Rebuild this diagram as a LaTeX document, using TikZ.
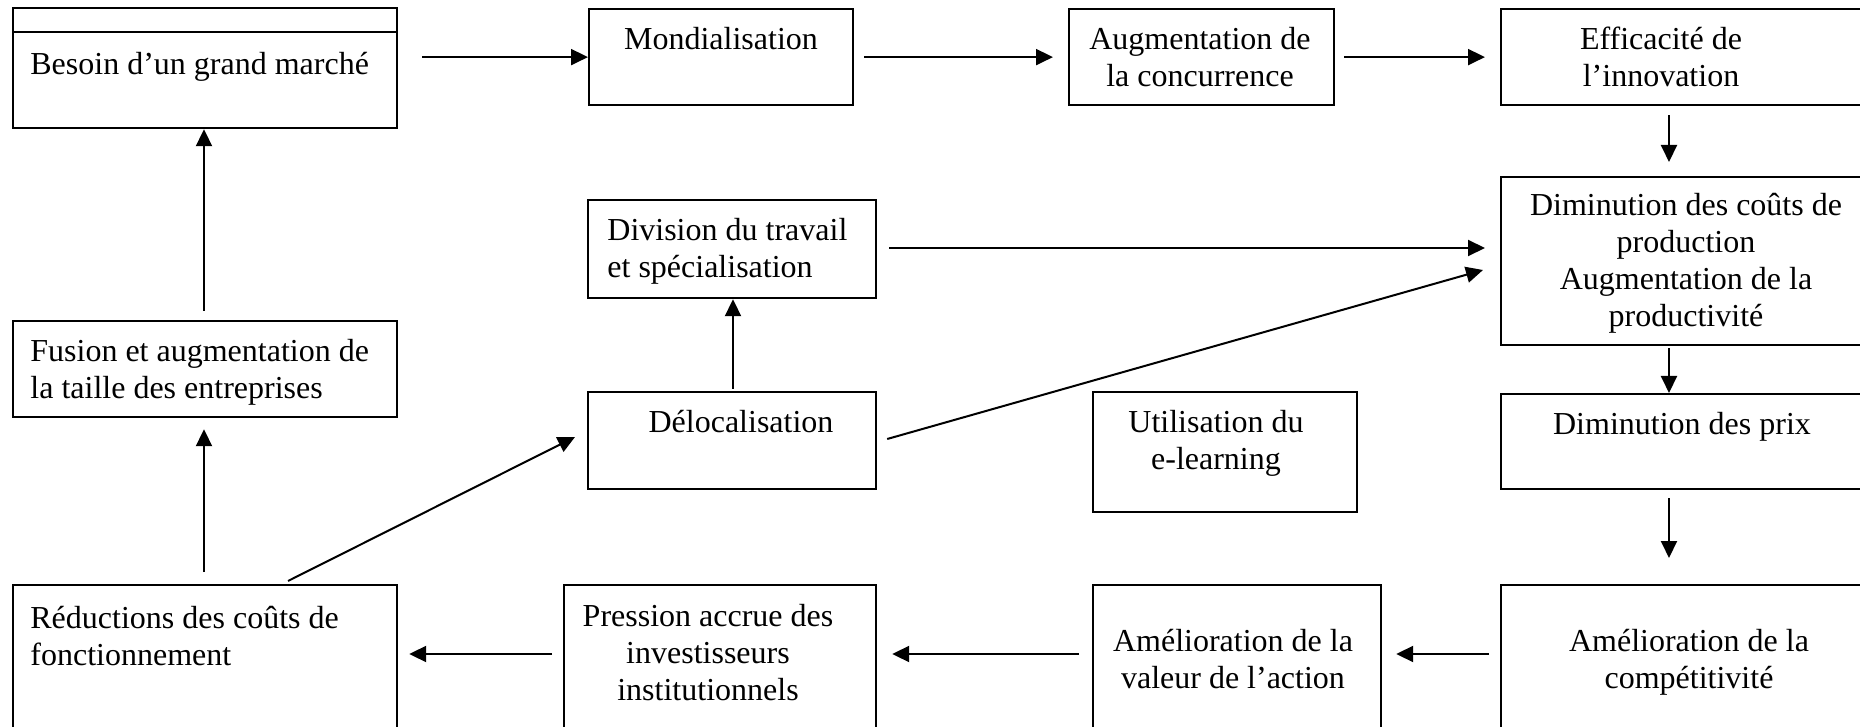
\documentclass[tikz,border=0pt]{standalone}
\usepackage{fontspec}
\setmainfont{Liberation Serif}
\usetikzlibrary{arrows.meta,calc}
\begin{document}
\begin{tikzpicture}[x=0.5pt,y=-0.5pt,
  box/.style={draw,line width=1.1pt,inner sep=0pt,anchor=north west},
  txt/.style={font=\fontsize{16}{18.5}\selectfont,align=center,inner sep=0pt,anchor=base},
  ltxt/.style={font=\fontsize{16}{18.5}\selectfont,align=left,inner sep=0pt,anchor=base west},
  arr/.style={line width=1pt,-{Triangle[length=8.5pt,width=8pt]}}]
\useasboundingbox (0,0) rectangle (1860,727);
\clip (0,0) rectangle (1860,727);
\fill[white] (0,0) rectangle (1860,727);
% boxes
\node[box,minimum width=192pt,minimum height=60pt] (besoin) at (12,7) {};
\node[box,minimum width=132pt,minimum height=48pt] (mond) at (588,8) {};
\node[box,minimum width=132.5pt,minimum height=48pt] (augm) at (1068,8) {};
\node[box,minimum width=190pt,minimum height=48pt] (effic) at (1500,8) {};
\node[box,minimum width=190pt,minimum height=84pt] (dimc) at (1500,176) {};
\node[box,minimum width=190pt,minimum height=47.5pt] (dimp) at (1500,393) {};
\node[box,minimum width=190pt,minimum height=90pt] (amcomp) at (1500,584) {};
\node[box,minimum width=144pt,minimum height=90pt] (amval) at (1092,584) {};
\node[box,minimum width=156pt,minimum height=90pt] (press) at (563,584) {};
\node[box,minimum width=192pt,minimum height=90pt] (reduc) at (12,584) {};
\node[box,minimum width=192pt,minimum height=48pt] (fusion) at (12,320) {};
\node[box,minimum width=144pt,minimum height=48.5pt] (deloc) at (587,391) {};
\node[box,minimum width=144pt,minimum height=49pt] (divis) at (587,199) {};
\node[box,minimum width=132pt,minimum height=60pt] (elearn) at (1092,391) {};
\draw[line width=1.1pt] ($(besoin.north west)+(0,25)$) -- ($(besoin.north east)+(0,25)$);
% texts (base = baseline of the last line)
\node[ltxt] (tbesoin) at (30,75) {Besoin d’un grand marché};
\node[txt] (tmond) at (721,50) {Mondialisation};
\node[txt] (taugm) at (1200,87) {Augmentation de\\la concurrence};
\node[txt] (teffic) at (1661,87) {Efficacité de\\l’innovation};
\node[txt] (tdimc) at (1686,327) {Diminution des coûts de\\production\\Augmentation de la\\productivité};
\node[txt] (tdimp) at (1682,435) {Diminution des prix};
\node[txt] (tamcomp) at (1689,688) {Amélioration de la\\compétitivité};
\node[txt] (tamval) at (1233,688) {Amélioration de la\\valeur de l’action};
\node[txt] (tpress) at (708,700) {Pression accrue des\\investisseurs\\institutionnels};
\node[ltxt] (treduc) at (30,665) {Réductions des coûts de\\fonctionnement};
\node[ltxt] (tfusion) at (30,399) {Fusion et augmentation de\\la taille des entreprises};
\node[txt] (tdeloc) at (741,433) {Délocalisation};
\node[ltxt] (tdivis) at (607,278) {Division du travail\\et spécialisation};
\node[txt] (telearn) at (1216,470) {Utilisation du\\e-learning};
% connectors
\draw[arr] ($(besoin.east |- mond.west)+(24,0)$) -- (mond.west);
\draw[arr] ($(mond.east)+(10,0)$) -- ($(augm.west)+(-15,0)$);
\draw[arr] ($(augm.east)+(9,0)$) -- ($(effic.west)+(-15,0)$);
\draw[arr] ($(effic.south west)+(169,9)$) -- ($(dimc.north west)+(169,-14)$);
\draw[arr] ($(dimc.south west)+(169,2)$) -- ($(dimp.north west)+(169,0)$);
\draw[arr] ($(dimp.south west)+(169,8)$) -- ($(amcomp.north west)+(169,-26)$);
\draw[arr] ($(amcomp.north west)+(-11,70)$) -- ($(amval.north east)+(14,70)$);
\draw[arr] ($(amval.north west)+(-13,70)$) -- ($(press.north east)+(15,70)$);
\draw[arr] ($(press.north west)+(-11,70)$) -- ($(reduc.north east)+(11,70)$);
\draw[arr] ($(reduc.north west)+(192,-12)$) -- ($(fusion.south west)+(192,11)$);
\draw[arr] ($(fusion.north west)+(192,-9)$) -- ($(besoin.south west)+(192,0)$);
\draw[arr] ($(reduc.north west)+(276,-3)$) -- ($(deloc.north west)+(-12,46)$);
\draw[arr] ($(deloc.north west)+(146,-2)$) -- ($(divis.south west)+(146,0)$);
\draw[arr] ($(divis.north east)+(12,49)$) -- ($(dimc.north west)+(-15,72)$);
\draw[arr] ($(deloc.north east)+(10,48)$) -- ($(dimc.north west)+(-17,94)$);
\end{tikzpicture}
\end{document}
